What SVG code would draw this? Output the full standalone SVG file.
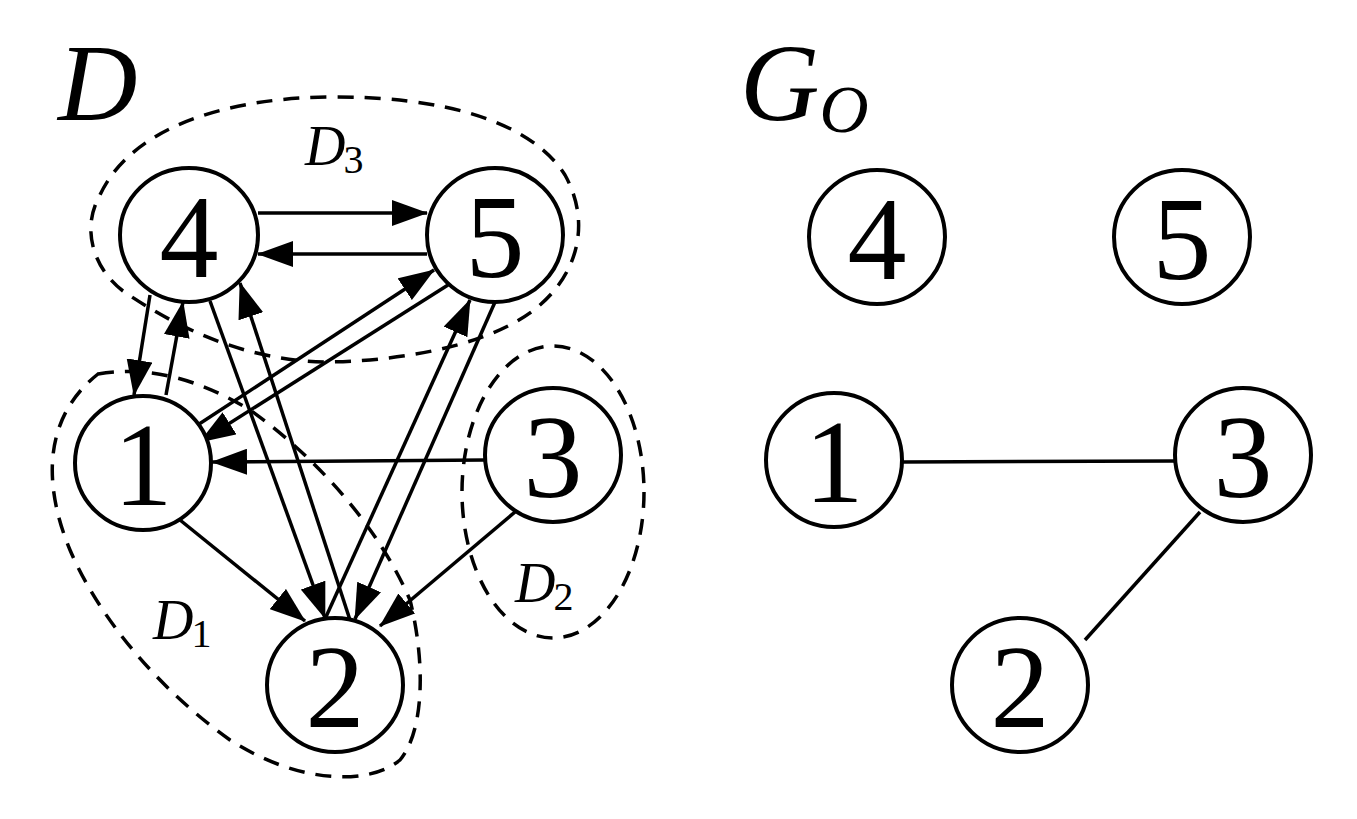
<svg xmlns="http://www.w3.org/2000/svg" width="1357" height="819" viewBox="0 0 1357 819">
<style>
.n{fill:#fff;stroke:#000;stroke-width:4}
.t{font-family:"Liberation Serif",serif;font-size:118px;text-anchor:middle}
.e{stroke:#000;stroke-width:3.5;fill:none}
.a{marker-end:url(#ah)}
.d{stroke:#000;stroke-width:3.5;fill:none;stroke-dasharray:16 11}
.l{font-family:"Liberation Serif",serif;font-style:italic}
</style>
<defs><marker id="ah" markerWidth="36" markerHeight="26" refX="35" refY="13" orient="auto" markerUnits="userSpaceOnUse"><path d="M0,0L36,13L0,26z"/></marker></defs>
<g id="regions">
<path class="d" d="M123,291 C95,270 80,230 100,195 C130,130 220,98 330,97 C440,96 530,120 565,175 C590,220 580,270 540,305 C500,340 420,360 330,362 C250,362 180,330 123,291Z"/>
<path class="d" d="M98,374 C150,365 200,380 250,410 C320,460 380,530 410,600 C425,660 425,730 400,760 C370,785 300,785 230,740 C160,690 100,620 70,550 C45,490 40,420 98,374Z"/>
<ellipse class="d" cx="553" cy="492" rx="91" ry="146"/>
</g>
<g id="connectors">
<line class="e a" x1="258" y1="213" x2="427" y2="213"/>
<line class="e a" x1="427" y1="254" x2="258" y2="254"/>
<line class="e a" x1="150" y1="295" x2="134" y2="395"/>
<line class="e a" x1="166" y1="395" x2="183" y2="302"/>
<line class="e a" x1="190" y1="430" x2="434" y2="270"/>
<line class="e a" x1="448" y1="285" x2="200" y2="442"/>
<line class="e a" x1="210" y1="301" x2="325" y2="618"/>
<line class="e a" x1="350" y1="620" x2="240" y2="283"/>
<line class="e a" x1="325" y1="619" x2="470" y2="300"/>
<line class="e a" x1="495" y1="302" x2="355" y2="619"/>
<line class="e a" x1="485" y1="460" x2="212" y2="462"/>
<line class="e a" x1="180" y1="520" x2="305" y2="621"/>
<line class="e a" x1="515" y1="512" x2="380" y2="626"/>
<line class="e" x1="902" y1="462" x2="1175" y2="461"/>
<line class="e" x1="1200" y1="512" x2="1085" y2="640"/>
</g>
<g id="n4"><ellipse class="n" cx="189" cy="235" rx="69" ry="67"/><text class="t" x="189" y="277">4</text></g>
<g id="n5"><ellipse class="n" cx="495" cy="235" rx="68" ry="67"/><text class="t" x="495" y="277">5</text></g>
<g id="n1"><ellipse class="n" cx="143" cy="463" rx="68" ry="67"/><text class="t" x="143" y="505">1</text></g>
<g id="n3"><ellipse class="n" cx="553" cy="455" rx="68" ry="67"/><text class="t" x="553" y="497">3</text></g>
<g id="n2"><ellipse class="n" cx="335" cy="685" rx="68" ry="67"/><text class="t" x="335" y="727">2</text></g>
<g id="m4"><ellipse class="n" cx="877" cy="237" rx="68" ry="67"/><text class="t" x="877" y="279">4</text></g>
<g id="m5"><ellipse class="n" cx="1182" cy="237" rx="68" ry="67"/><text class="t" x="1182" y="279">5</text></g>
<g id="m1"><ellipse class="n" cx="834" cy="460" rx="68" ry="67"/><text class="t" x="834" y="502">1</text></g>
<g id="m3"><ellipse class="n" cx="1243" cy="455" rx="68" ry="67"/><text class="t" x="1243" y="497">3</text></g>
<g id="m2"><ellipse class="n" cx="1020" cy="685" rx="68" ry="67"/><text class="t" x="1020" y="727">2</text></g>
<g id="labels">
<text class="l" x="58" y="120" font-size="110">D</text>
<text class="l" x="740" y="120" font-size="110">G<tspan font-size="68" dy="12">O</tspan></text>
<text class="l" x="305" y="165" font-size="56">D<tspan font-size="40" dx="-2" dy="8" font-style="normal">3</tspan></text>
<text class="l" x="153" y="639" font-size="56">D<tspan font-size="40" dx="-2" dy="8" font-style="normal">1</tspan></text>
<text class="l" x="515" y="602" font-size="56">D<tspan font-size="40" dx="-2" dy="8" font-style="normal">2</tspan></text>
</g>
</svg>
